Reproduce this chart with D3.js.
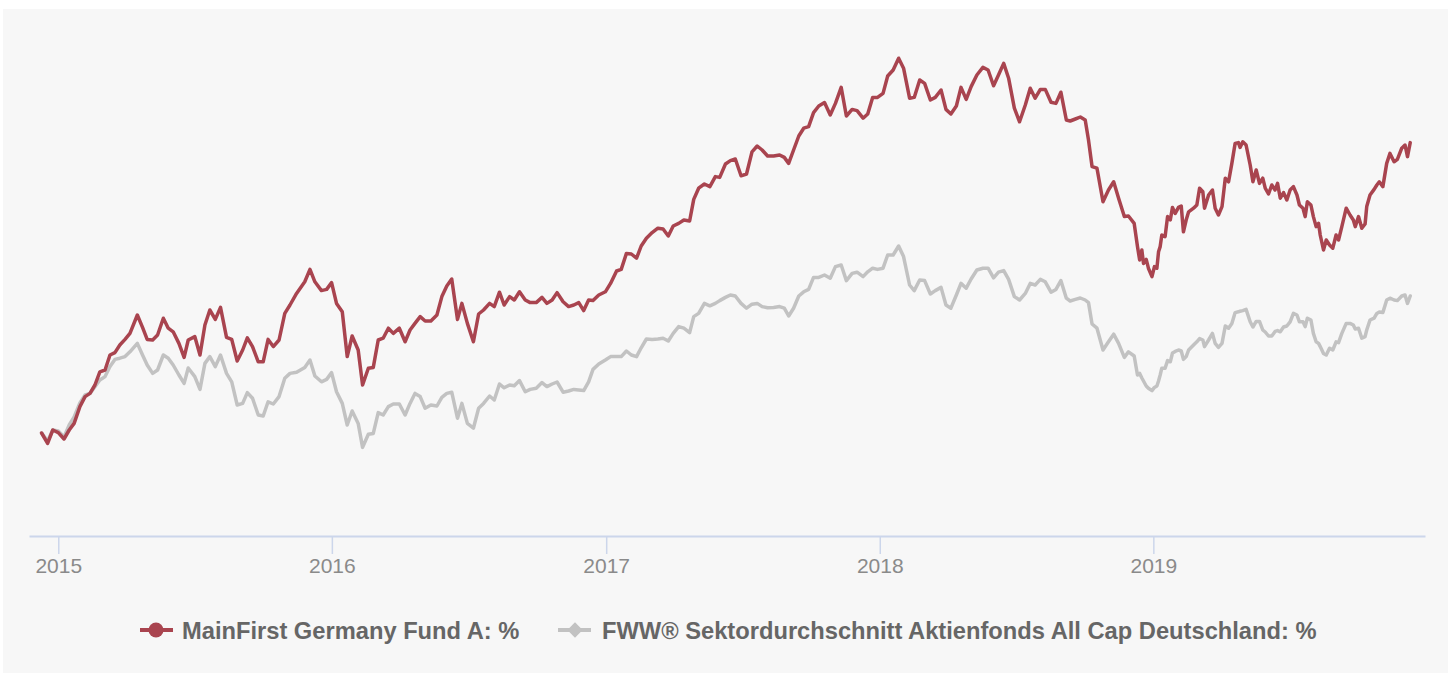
<!DOCTYPE html>
<html>
<head>
<meta charset="utf-8">
<script src="https://cdn.jsdelivr.net/npm/d3@7/dist/d3.min.js"></script>
<style>
  html, body { margin: 0; padding: 0; background: #ffffff; }
  svg { display: block; }
</style>
</head>
<body>
<svg id="chart" width="1451" height="679"></svg>
<script>
// ---- DATA (dates as decimal years, values in % performance) ----
const dates = [
2014.939,2014.961,2014.980,2015.000,2015.021,2015.040,2015.058,2015.079,2015.098,2015.116,
2015.134,2015.152,2015.171,2015.189,2015.207,2015.225,2015.244,2015.262,2015.289,2015.308,
2015.325,2015.345,2015.363,2015.384,2015.402,2015.420,2015.441,2015.460,2015.475,2015.499,
2015.518,2015.536,2015.554,2015.574,2015.593,2015.615,2015.634,2015.654,2015.674,2015.691,
2015.710,2015.731,2015.749,2015.767,2015.786,2015.807,2015.828,2015.847,2015.871,2015.901,
2015.920,2015.938,2015.962,2015.981,2015.999,2016.017,2016.038,2016.056,2016.074,2016.096,
2016.112,2016.133,2016.151,2016.169,
2016.187,2016.206,2016.224,2016.246,2016.267,2016.285,2016.303,2016.322,2016.340,2016.361,
2016.383,2016.401,2016.419,2016.437,2016.458,2016.474,2016.494,2016.516,2016.535,2016.553,
2016.575,2016.592,2016.611,2016.628,2016.648,2016.665,2016.684,2016.705,2016.723,2016.745,
2016.766,2016.784,2016.803,2016.821,2016.843,2016.863,2016.882,2016.900,2016.918,2016.936,
2016.952,2016.973,2016.997,2017.016,2017.038,2017.055,2017.074,2017.092,2017.111,2017.128,
2017.147,2017.168,2017.189,2017.208,2017.227,2017.245,2017.265,2017.284,2017.305,2017.320,
2017.338,2017.359,2017.379,
2017.399,2017.415,2017.436,2017.454,2017.472,2017.493,2017.513,2017.533,2017.552,2017.570,
2017.590,2017.612,2017.634,2017.651,2017.667,2017.685,2017.704,2017.722,2017.740,2017.758,
2017.777,2017.798,2017.819,2017.838,2017.859,2017.878,2017.899,2017.917,2017.939,2017.956,
2017.974,2017.992,2018.012,2018.029,2018.049,2018.069,2018.087,2018.109,2018.126,2018.146,
2018.164,2018.185,2018.203,2018.224,2018.242,2018.260,2018.280,2018.297,2018.316,2018.334,
2018.355,2018.377,2018.396,2018.416,2018.434,2018.453,2018.471,2018.492,2018.511,2018.532,
2018.550,2018.568,2018.587,2018.605,2018.626,2018.644,2018.662,2018.682,2018.696,
2018.715,2018.733,2018.751,2018.763,2018.776,2018.794,2018.816,2018.836,2018.855,2018.873,
2018.894,2018.909,2018.930,2018.942,2018.950,2018.958,2018.964,2018.974,2018.982,2018.995,
2019.004,2019.013,2019.019,2019.025,2019.031,2019.043,2019.052,2019.062,2019.070,2019.080,
2019.092,2019.102,2019.110,2019.120,2019.129,2019.147,2019.159,2019.169,2019.181,2019.187,
2019.202,2019.216,2019.226,2019.238,2019.251,2019.263,2019.275,2019.287,2019.299,2019.311,
2019.317,2019.327,2019.339,2019.354,2019.364,2019.376,2019.388,2019.400,2019.409,2019.421,
2019.433,2019.445,2019.454,2019.464,2019.476,2019.488,2019.500,2019.512,2019.525,2019.534,
2019.547,2019.555,2019.563,2019.576,2019.585,2019.595,2019.604,2019.610,2019.622,2019.632,
2019.644,2019.656,2019.668,2019.677,2019.689,2019.705,2019.719,2019.731,2019.738,2019.750,
2019.762,2019.774,2019.780,2019.792,2019.807,2019.817,2019.826,2019.839,2019.853,2019.865,
2019.880,2019.892,2019.908,2019.920,2019.929,2019.939
];

const fundValues = [
0,-2.6,0.75,0.1,-1.5,0.75,2.4,6.6,9.1,9.9,
12.0,15.3,15.75,19.5,20.1,22.0,23.4,24.9,29.5,26.4,
23.4,23.25,24.5,28.7,26.2,25.3,22.4,18.9,23.25,24.1,
19.5,27.0,30.75,28.4,31.4,23.9,23.4,18.0,20.75,23.8,
21.6,17.8,17.8,23.4,21.6,23.25,29.9,32.0,34.9,37.8,
40.9,37.8,35.6,35.9,37.6,32.4,30.3,19.1,24.25,20.75,
12.0,16.2,16.4,23.25,
23.7,26.2,24.9,26.2,22.8,25.75,27.4,29.1,28.0,28.0,
29.5,34.1,36.75,38.5,28.4,32.4,27.4,22.8,29.75,30.75,
32.4,31.6,35.2,32.0,34.1,33.25,35.3,33.25,32.6,32.6,
33.9,32.4,33.25,35.1,32.8,31.6,32.0,32.6,30.6,33.25,
33.1,34.5,35.3,37.4,40.5,40.9,44.9,44.75,43.7,46.75,
48.7,50.1,51.2,51.0,49.25,51.75,52.4,53.25,53.0,58.4,
61.2,62.25,61.6,
64.1,63.9,67.25,68.1,68.5,64.3,64.75,70.3,71.75,70.75,
69.25,69.25,69.5,68.9,67.4,70.75,74.25,76.2,76.6,80.1,
81.75,82.6,79.5,82.4,86.4,79.25,80.9,80.6,78.7,79.75,
83.9,83.9,84.9,89.25,90.75,93.7,91.2,83.7,83.9,88.25,
87.4,83.25,83.9,85.75,80.9,79.75,81.75,86.4,83.4,86.6,
89.5,91.4,90.75,86.8,89.5,92.4,88.7,81.2,77.8,82.0,
86.2,83.7,85.9,85.9,82.7,82.4,85.2,78.25,78.0,
78.5,79.0,78.25,73.25,66.6,66.2,57.8,60.75,62.8,58.7,
54.1,54.25,52.4,46.6,43.25,45.75,42.4,43.4,41.2,39.1,
41.6,41.2,45.3,46.6,49.5,49.1,54.1,53.25,56.4,54.9,
56.4,56.75,50.3,53.25,55.3,56.2,57.0,61.2,60.3,56.2,
59.5,60.75,56.2,54.5,56.6,63.7,62.8,67.4,72.4,72.6,
71.4,72.8,72.0,67.0,62.8,65.75,62.4,63.7,61.2,59.75,
62.0,60.75,62.4,58.7,60.1,58.25,60.75,61.6,59.5,57.0,
56.2,54.1,57.8,57.0,54.1,51.6,52.4,49.5,45.75,48.25,
47.0,46.2,49.5,48.25,51.6,56.2,54.5,53.25,51.6,54.1,
51.2,52.25,56.6,59.5,60.9,62.0,62.8,61.6,67.4,69.9,
67.8,68.4,71.2,72.0,69.1,72.6
];

const sectorValues = [
0,-2.0,0.75,0.5,-1.0,2.0,4.0,7.5,9.5,9.9,
11.6,13.25,14.1,16.6,18.4,18.7,19.1,20.3,22.4,19.5,
17.0,14.9,15.75,19.5,18.7,17.0,14.5,12.4,16.25,14.1,
10.9,17.4,19.1,16.6,19.5,14.9,12.8,7.0,7.4,10.1,
8.7,4.5,4.25,7.8,7.25,9.1,13.7,14.9,15.2,16.4,
18.25,14.25,12.8,13.4,15.1,10.3,7.4,2.0,5.5,2.4,
-3.6,-0.3,-0.1,5.1,
4.5,6.6,7.25,7.25,4.5,7.4,9.9,9.1,6.2,7.0,
6.75,8.9,9.9,10.2,3.7,7.4,2.4,1.2,6.2,7.4,
9.25,8.25,12.25,11.3,12.0,11.8,13.1,10.3,10.9,11.2,
12.6,11.6,12.25,12.75,10.2,10.5,10.9,10.75,10.6,12.8,
15.9,17.25,18.25,19.1,19.1,19.1,20.5,19.5,19.1,21.3,
23.5,23.4,23.5,23.7,23.0,24.9,26.6,26.2,25.1,29.1,
29.9,32.4,31.8,
32.4,33.1,33.9,34.5,34.25,32.4,31.2,32.2,32.4,31.6,
31.3,31.4,31.6,31.2,29.25,31.2,34.25,35.3,35.9,38.9,
38.9,39.5,38.7,41.6,42.0,38.1,39.9,40.2,39.1,40.3,
41.2,40.9,41.2,44.5,44.5,46.75,44.1,37.0,35.6,38.25,
38.1,34.75,35.6,36.4,32.0,31.2,34.5,37.4,36.2,38.5,
40.75,41.2,41.2,38.8,40.2,40.6,38.4,34.1,33.25,34.9,
37.4,37.0,38.4,37.8,35.2,35.9,38.1,33.7,33.0,
33.4,33.75,33.25,32.6,27.25,26.2,20.75,22.8,24.7,22.4,
18.9,20.3,19.25,14.5,14.9,13.75,13.0,11.75,11.2,10.6,
11.4,11.75,13.0,14.5,16.2,16.2,18.1,17.8,20.0,20.4,
20.75,20.5,18.4,19.1,20.75,22.0,22.8,23.6,23.25,21.6,
23.25,24.9,22.4,21.4,22.4,26.75,26.2,27.4,30.1,30.3,
30.45,30.6,30.9,27.8,26.5,27.9,27.9,25.75,25.25,24.25,
24.25,25.4,25.6,25.3,26.5,26.75,27.8,29.9,29.5,27.8,
27.8,26.6,28.7,28.25,24.9,22.8,22.4,21.6,19.9,19.5,
21.2,20.75,22.8,22.6,24.9,27.4,27.4,27.0,26.0,26.2,
23.7,24.1,25.75,28.25,28.7,29.9,30.25,30.1,33.25,33.7,
33.25,33.1,34.25,34.5,32.4,34.25
];

const seriesNames = ["MainFirst Germany Fund A: %", "FWW\u00AE Sektordurchschnitt Aktienfonds All Cap Deutschland: %"];
const seriesColors = ["#a9444f", "#c2c2c2"];
const axisRange = [2014.893, 2019.993];   // visible x-axis extent (decimal years)
const valueRange = [-25, 100];             // visible y extent (%)

// ---- helpers ----
function toDate(y) {
  const Y = Math.floor(y);
  const s = Date.UTC(Y, 0, 1), e = Date.UTC(Y + 1, 0, 1);
  return new Date(s + (y - Y) * (e - s));
}

const svg = d3.select("#chart");

// background panel
svg.append("rect")
  .attr("x", 3).attr("y", 9).attr("width", 1445).attr("height", 664)
  .attr("fill", "#f7f7f7");

const plotLeft = 29, plotRight = 1425, plotTop = 33, plotBottom = 533;

const x = d3.scaleUtc()
  .domain(axisRange.map(toDate))
  .range([plotLeft, plotRight]);

const y = d3.scaleLinear()
  .domain(valueRange)
  .range([plotBottom, plotTop]);

// axis
const axisY = 536;
const axis = d3.axisBottom(x)
  .ticks(d3.utcYear.every(1))
  .tickFormat(d3.utcFormat("%Y"))
  .tickSizeInner(18)
  .tickSizeOuter(0)
  .tickPadding(4);

const gAxis = svg.append("g")
  .attr("transform", `translate(0,${axisY})`)
  .call(axis);
gAxis.select(".domain").attr("stroke", "#ccd6eb").attr("stroke-width", 2);
gAxis.selectAll(".tick line").attr("stroke", "#ccd6eb").attr("stroke-width", 1.5);
gAxis.selectAll(".tick text")
  .attr("fill", "#8a8a8a")
  .style("font-family", "'Liberation Sans', Arial, Helvetica, sans-serif")
  .style("font-size", "21px");

// lines
const seriesData = [fundValues, sectorValues];
const line = d3.line()
  .x(d => x(toDate(d[0])))
  .y(d => y(d[1]));

// draw sector (gray) first, fund (red) on top
[1, 0].forEach(i => {
  const pts = dates.map((t, j) => [t, seriesData[i][j]]);
  svg.append("path")
    .datum(pts)
    .attr("d", line)
    .attr("fill", "none")
    .attr("stroke", seriesColors[i])
    .attr("stroke-width", 3.5)
    .attr("stroke-linejoin", "round")
    .attr("stroke-linecap", "round");
});

// legend
const legendY = 630;
const legend = svg.append("g");
const legendItems = [
  { sx: 140, tx: 182, sym: "circle" },
  { sx: 558, tx: 602, sym: "diamond" }
];
legendItems.forEach((it, i) => {
  legend.append("line")
    .attr("x1", it.sx).attr("x2", it.sx + 33)
    .attr("y1", legendY).attr("y2", legendY)
    .attr("stroke", seriesColors[i]).attr("stroke-width", 4);
  if (it.sym === "circle") {
    legend.append("circle")
      .attr("cx", it.sx + 16).attr("cy", legendY).attr("r", 7.5)
      .attr("fill", seriesColors[i]);
  } else {
    legend.append("path")
      .attr("d", d3.symbol().type(d3.symbolDiamond2).size(150)())
      .attr("transform", `translate(${it.sx + 17},${legendY})`)
      .attr("fill", seriesColors[i]);
  }
  legend.append("text")
    .attr("x", it.tx).attr("y", legendY + 8.5)
    .attr("fill", "#666666")
    .style("font-family", "'Liberation Sans', Arial, Helvetica, sans-serif")
    .style("font-weight", "bold")
    .style("font-size", "23.7px")
    .text(seriesNames[i]);
});
</script>
</body>
</html>
